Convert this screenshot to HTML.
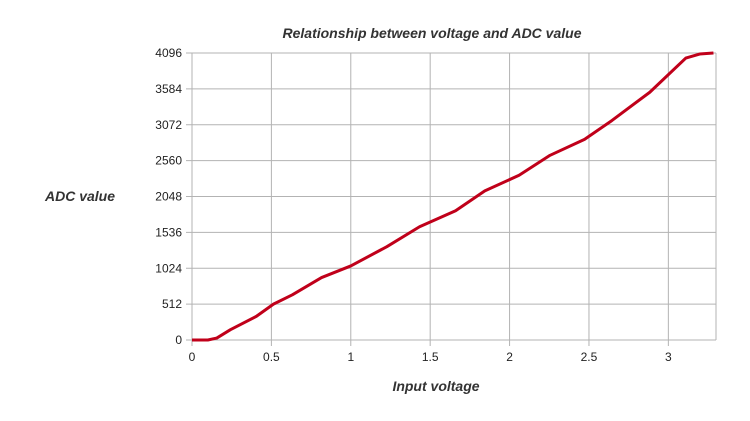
<!DOCTYPE html>
<html><head><meta charset="utf-8"><style>
html,body{margin:0;padding:0;background:#fff;}
svg text{font-family:"Liberation Sans",sans-serif;}
</style></head><body>
<svg id="chart" width="750" height="416" xmlns="http://www.w3.org/2000/svg">
<rect width="750" height="416" fill="#fff"/>
<text x="432" y="38" text-anchor="middle" font-size="14" font-weight="bold" font-style="italic" fill="#333">Relationship between voltage and ADC value</text>
<text x="80" y="201" text-anchor="middle" font-size="14" font-weight="bold" font-style="italic" fill="#333">ADC value</text>
<text x="436" y="391" text-anchor="middle" font-size="14" font-weight="bold" font-style="italic" fill="#333">Input voltage</text>
<g id="grid"></g><g id="ticks"></g><g id="series"></g>
</svg>
<script>
const xVals=[0,0.1,0.156,0.242,0.405,0.513,0.632,0.816,1.0,1.227,1.433,1.66,1.844,2.06,2.255,2.472,2.645,2.883,3.11,3.197,3.284];
const yVals=[0,0,28,147,337,512,645,891,1057,1332,1616,1844,2128,2351,2636,2863,3133,3536,4024,4081,4096];
const xTicks=[0,0.5,1,1.5,2,2.5,3];
const yTicks=[0,512,1024,1536,2048,2560,3072,3584,4096];
const L=192,R=716,T=53,B=340,XMAX=3.3,YMAX=4096;
const sx=v=>L+v/XMAX*(R-L), sy=v=>B-v/YMAX*(B-T);
const NS="http://www.w3.org/2000/svg";
const g=document.getElementById('grid'),tk=document.getElementById('ticks'),s=document.getElementById('series');
function mk(tag,at,parent){const e=document.createElementNS(NS,tag);for(const k in at)e.setAttribute(k,at[k]);parent.appendChild(e);return e;}
yTicks.forEach(v=>{
 const l=mk('line',{x1:L-6,x2:R,y1:sy(v),y2:sy(v),stroke:'#b3b3b3','stroke-width':1},g);
 
 
 const t=mk('text',{x:L-10,y:sy(v)+4,'text-anchor':'end','font-size':12,fill:'#222'},tk);
 t.textContent=v;
 
 
});
xTicks.forEach(v=>{
 const l=mk('line',{x1:sx(v),x2:sx(v),y1:T,y2:B+6,stroke:'#b3b3b3','stroke-width':1},g);
 
 
 const t=mk('text',{x:sx(v),y:B+21,'text-anchor':'middle','font-size':12,fill:'#222'},tk);
 t.textContent=v;
 
 
});
const rl=mk('line',{x1:R,x2:R,y1:T,y2:B,stroke:'#b3b3b3','stroke-width':1},g);


const p=mk('polyline',{points:xVals.map((x,i)=>sx(x)+','+sy(yVals[i])).join(' '),fill:'none',stroke:'#c0001a','stroke-width':3,'stroke-linejoin':'round'},s);


</script>
</body></html>
